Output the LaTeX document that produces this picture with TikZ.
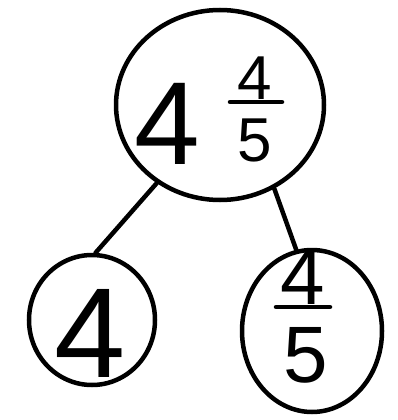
\documentclass[tikz,border=0pt]{standalone}
\usepackage{fontspec}
\setmainfont{Liberation Sans}
\usetikzlibrary{shapes.geometric}
\begin{document}
\begin{tikzpicture}[x=1pt,y=-1pt,
  ring/.style={draw,ellipse,line width=4.5pt,inner sep=0pt},
  link/.style={line width=4.5pt,line cap=round},
  big/.style={font=\fontsize{118}{118}\selectfont,inner sep=0pt},
  frac/.style={font=\fontsize{62}{62}\selectfont,inner sep=0pt},
  rfrac/.style={font=\fontsize{80}{80}\selectfont,inner sep=0pt}]
\useasboundingbox (0,0) rectangle (397,420);
\node[ring,minimum width=208pt,minimum height=190pt] (top) at (220,105) {};
\node[ring,minimum width=126pt,minimum height=130pt] (left) at (92,320) {};
\node[ring,minimum width=140pt,minimum height=162pt] (right) at (312,331) {};
\node[big] (t4) at (167,124) {4};
\node[frac] (tn) at (255,78) {4};
\node[frac] (td) at (255,140) {5};
\draw[link] (230,102) -- (282,102);
\node[big,font=\fontsize{128}{128}\selectfont] (l4) at (90,333) {4};
\node[rfrac] (rn) at (303,277) {4};
\node[rfrac] (rd) at (306,355) {5};
\draw[link] (276,307) -- (330,307);
\draw[link] (top.231) -- (left.87);
\draw[link] (top.303) -- (right.101);
\end{tikzpicture}
\end{document}
